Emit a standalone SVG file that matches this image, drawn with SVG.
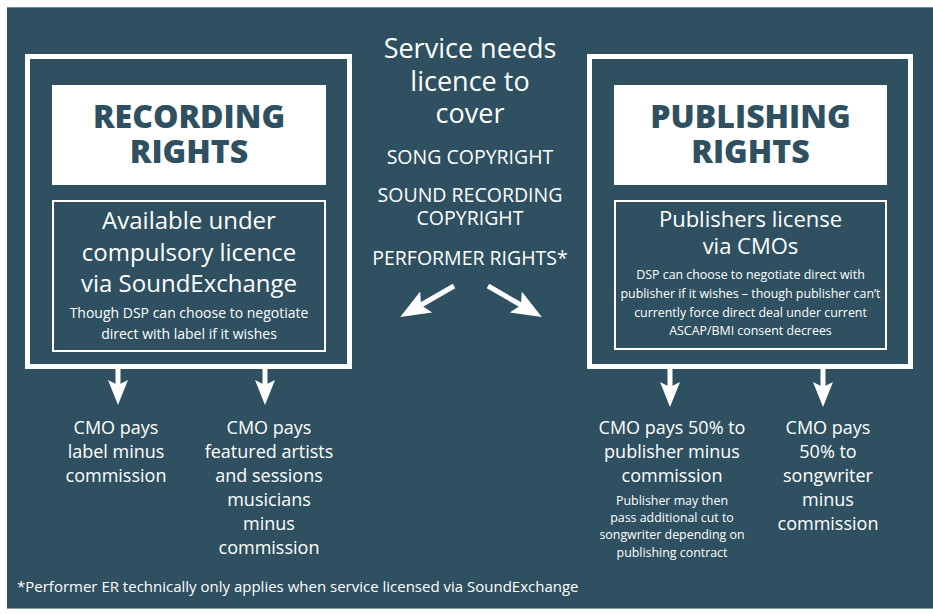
<svg xmlns="http://www.w3.org/2000/svg" width="933" height="614" viewBox="0 0 933 614">
  <style>
    text { font-family: "Open Sans", "Liberation Sans", sans-serif; fill: #ffffff; text-anchor: middle; }
    .head { font-weight: 800; font-size: 32px; fill: #2e5061; }
    .sub { font-size: 24px; }
    .sub-sm { font-size: 22px; }
    .center { font-size: 27px; }
    .caps { font-size: 19.5px; }
    .pay { font-size: 18px; }
    .note { font-size: 14px; }
    .note-sm { font-size: 12.4px; }
    .frame { fill: none; stroke: #ffffff; stroke-width: 5; }
    .inner { fill: none; stroke: #ffffff; stroke-width: 2; }
    .titlebox { fill: #ffffff; }
    .conn { stroke: #ffffff; stroke-width: 5; fill: none; marker-end: url(#dart); }
    .conn-lg { stroke: #ffffff; stroke-width: 5; fill: none; marker-end: url(#dart-lg); }
  </style>
  <defs>
    <marker id="dart" markerUnits="userSpaceOnUse" markerWidth="30" markerHeight="24" viewBox="0 -12 30 24" refX="5" refY="0" orient="auto">
      <path d="M0,-10 L25,0 L0,10 L5,0 Z" fill="#ffffff"/>
    </marker>
    <marker id="dart-lg" markerUnits="userSpaceOnUse" markerWidth="34" markerHeight="28" viewBox="0 -14 34 28" refX="6" refY="0" orient="auto">
      <path d="M0,-12 L30,0 L0,12 L6,0 Z" fill="#ffffff"/>
    </marker>
  </defs>

  <!-- page ground and panel -->
  <rect x="0" y="0" width="933" height="614" fill="#ffffff"/>
  <rect x="7" y="7" width="926" height="602" fill="#2e5061"/>
  <line x1="7" y1="7.5" x2="933" y2="7.5" stroke="#6f8893" stroke-width="1"/>
  <line x1="7" y1="608.5" x2="933" y2="608.5" stroke="#8aa0a9" stroke-width="1"/>

  <!-- recording rights -->
  <g id="recording">
    <rect class="frame" x="27.5" y="56.5" width="322" height="310"/>
    <rect class="titlebox" x="52" y="85" width="274" height="100"/>
    <text class="head" x="189" y="128">RECORDING</text>
    <text class="head" x="189" y="163">RIGHTS</text>
    <rect class="inner" x="53" y="201" width="272" height="150"/>
    <text class="sub" x="189" y="229">Available under</text>
    <text class="sub" x="189" y="261">compulsory licence</text>
    <text class="sub" x="189" y="292">via SoundExchange</text>
    <text class="note" x="189" y="318">Though DSP can choose to negotiate</text>
    <text class="note" x="189" y="339">direct with label if it wishes</text>
  </g>

  <!-- centre column -->
  <g id="service">
    <text class="center" x="470" y="58">Service needs</text>
    <text class="center" x="470" y="91">licence to</text>
    <text class="center" x="470" y="123">cover</text>
    <text class="caps" x="470" y="164">SONG COPYRIGHT</text>
    <text class="caps" x="470" y="202">SOUND RECORDING</text>
    <text class="caps" x="470" y="225">COPYRIGHT</text>
    <text class="caps" x="470" y="265">PERFORMER RIGHTS*</text>
  </g>

  <!-- publishing rights -->
  <g id="publishing">
    <rect class="frame" x="589.5" y="56.5" width="321" height="310"/>
    <rect class="titlebox" x="614" y="85" width="273" height="100"/>
    <text class="head" x="750.5" y="128">PUBLISHING</text>
    <text class="head" x="750.5" y="163">RIGHTS</text>
    <rect class="inner" x="615" y="201" width="271" height="148"/>
    <text class="sub-sm" x="750.5" y="227">Publishers license</text>
    <text class="sub-sm" x="750.5" y="254">via CMOs</text>
    <text class="note-sm" x="750.5" y="279">DSP can choose to negotiate direct with</text>
    <text class="note-sm" x="750.5" y="298">publisher if it wishes – though publisher can’t</text>
    <text class="note-sm" x="750.5" y="317">currently force direct deal under current</text>
    <text class="note-sm" x="750.5" y="335">ASCAP/BMI consent decrees</text>
  </g>

  <!-- payment outcomes -->
  <g id="label-pay">
    <text class="pay" x="116" y="434">CMO pays</text>
    <text class="pay" x="116" y="458">label minus</text>
    <text class="pay" x="116" y="482">commission</text>
  </g>
  <g id="artist-pay">
    <text class="pay" x="269" y="434">CMO pays</text>
    <text class="pay" x="269" y="458">featured artists</text>
    <text class="pay" x="269" y="482">and sessions</text>
    <text class="pay" x="269" y="506">musicians</text>
    <text class="pay" x="269" y="530">minus</text>
    <text class="pay" x="269" y="554">commission</text>
  </g>
  <g id="publisher-pay">
    <text class="pay" x="672" y="434">CMO pays 50% to</text>
    <text class="pay" x="672" y="458">publisher minus</text>
    <text class="pay" x="672" y="482">commission</text>
    <text class="note-sm" x="672" y="505">Publisher may then</text>
    <text class="note-sm" x="672" y="522">pass additional cut to</text>
    <text class="note-sm" x="672" y="539">songwriter depending on</text>
    <text class="note-sm" x="672" y="557">publishing contract</text>
  </g>
  <g id="songwriter-pay">
    <text class="pay" x="828" y="434">CMO pays</text>
    <text class="pay" x="828" y="458">50% to</text>
    <text class="pay" x="828" y="482">songwriter</text>
    <text class="pay" x="828" y="506">minus</text>
    <text class="pay" x="828" y="530">commission</text>
  </g>

  <g id="footnote">
    <text x="17" y="592" style="font-size:15px; text-anchor:start">*Performer ER technically only applies when service licensed via SoundExchange</text>
  </g>

  <!-- connectors -->
  <g id="connectors">
    <line class="conn-lg" x1="454" y1="286" x2="421" y2="305"/>
    <line class="conn-lg" x1="488" y1="286" x2="521" y2="305"/>
    <line class="conn" x1="118" y1="368" x2="118" y2="385"/>
    <line class="conn" x1="265" y1="368" x2="265" y2="385"/>
    <line class="conn" x1="670" y1="368" x2="670" y2="387"/>
    <line class="conn" x1="823" y1="368" x2="823" y2="387"/>
  </g>
</svg>
